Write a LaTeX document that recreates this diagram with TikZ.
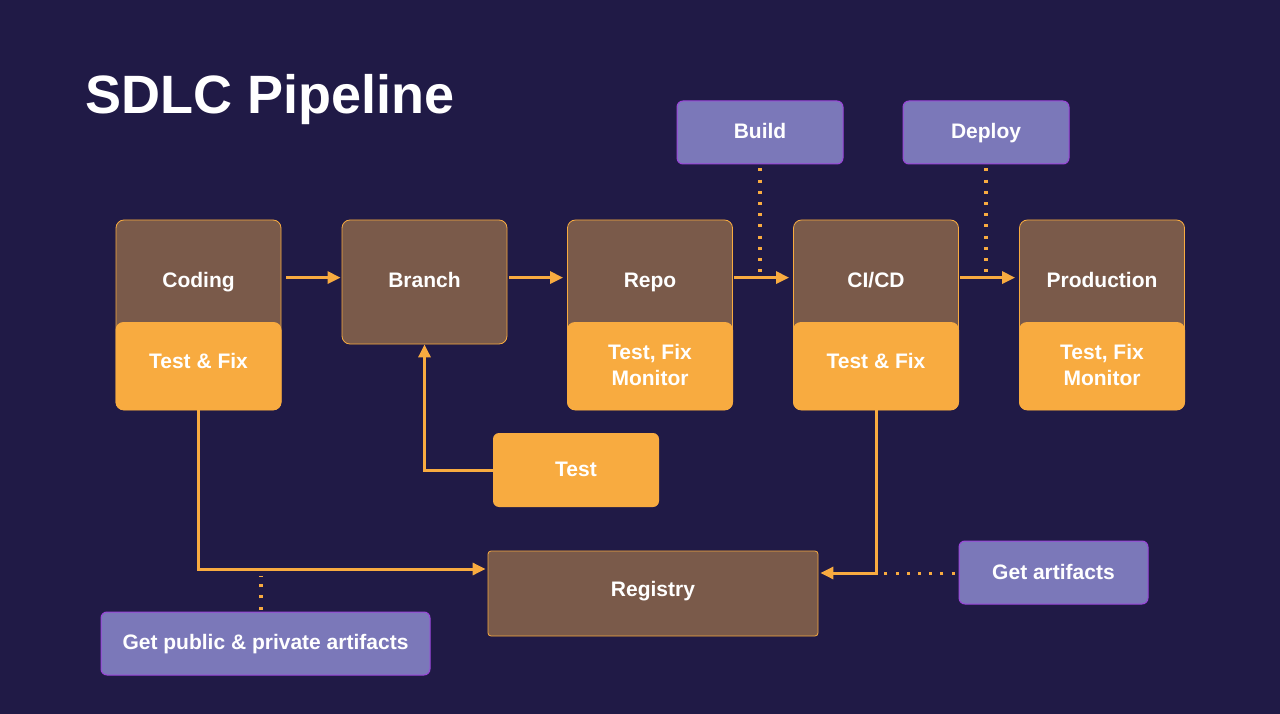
\documentclass[tikz,border=0pt]{standalone}
\usepackage{fontspec}
\setmainfont{Liberation Sans}
\usetikzlibrary{arrows.meta}
\definecolor{bgc}{HTML}{201A46}
\definecolor{brownc}{HTML}{7A5A4A}
\definecolor{orangec}{HTML}{F8AB40}
\definecolor{purplec}{HTML}{7B78B9}
\definecolor{violetc}{HTML}{9B45DA}
\begin{document}
\begin{tikzpicture}[x=1pt,y=-1pt,
  stagebox/.style={draw=orangec, line width=0.8pt, fill=brownc, rounded corners=8pt, minimum width=165pt, inner sep=0pt},
  lowerbox/.style={fill=orangec, rounded corners=8pt, minimum width=166pt, minimum height=88pt, inner sep=0pt},
  pbox/.style={draw=violetc, fill=purplec, rounded corners=6pt, line width=1pt, inner sep=0pt},
  obox/.style={fill=orangec, rounded corners=6pt, inner sep=0pt},
  txtm/.style={text=white, font=\bfseries\fontsize{21}{26}\selectfont, align=center, inner sep=0pt},
  txt/.style={txtm, text height=17pt, text depth=4pt},
  arr/.style={draw=orangec, line width=3pt, -{Triangle[length=13pt,width=12pt]}},
  dots/.style={draw=orangec, line width=3.2pt, dash pattern=on 3pt off 8.2pt}
]
\fill[bgc] (0,0) rectangle (1280,714);
\useasboundingbox (0,0) rectangle (1280,714);

\node[text=white, font=\bfseries\fontsize{54}{60}\selectfont, anchor=base west, inner sep=0pt] (title) at (85,114) {SDLC Pipeline};

% stages
\node[stagebox, minimum height=190pt] (coding) at (198.5,315) {};
\node[lowerbox] (codinglow) at (198.5,366) {};
\node[txt] (codingt) at (198.5,281) {Coding};
\node[txt] (codinglt) at (198.5,362) {Test \& Fix};

\node[stagebox, minimum height=124pt] (branch) at (424.5,282) {};
\node[txt] (brancht) at (424.5,281) {Branch};

\node[stagebox, minimum height=190pt] (repo) at (650,315) {};
\node[lowerbox] (repolow) at (650,366) {};
\node[txt] (repot) at (650,281) {Repo};
\node[txtm] (repolt) at (650,365) {Test, Fix\\Monitor};

\node[stagebox, minimum height=190pt] (cicd) at (876,315) {};
\node[lowerbox] (cicdlow) at (876,366) {};
\node[txt] (cicdt) at (876,281) {CI/CD};
\node[txt] (cicdlt) at (876,362) {Test \& Fix};

\node[stagebox, minimum height=190pt] (prod) at (1102,315) {};
\node[lowerbox] (prodlow) at (1102,366) {};
\node[txt] (prodt) at (1102,281) {Production};
\node[txtm] (prodlt) at (1102,365) {Test, Fix\\Monitor};

% top boxes
\node[pbox, minimum width=166pt, minimum height=63pt] (build) at (760,132.5) {};
\node[txt] at (build) {Build};
\node[pbox, minimum width=166pt, minimum height=63pt] (deploy) at (986,132.5) {};
\node[txt] at (deploy) {Deploy};

% test
\node[obox, minimum width=166pt, minimum height=74pt] (test) at (576,470) {};
\node[txt] at (test) {Test};

% registry
\node[draw=orangec, line width=0.8pt, fill=brownc, rounded corners=3pt, minimum width=330pt, minimum height=85pt] (registry) at (653,593.5) {};
\node[txt] at ([yshift=4pt]registry.center) {Registry};

% purple bottom boxes
\node[pbox, minimum width=189pt, minimum height=63pt] (getart) at (1053.5,572.5) {};
\node[txt] at (getart) {Get artifacts};
\node[pbox, minimum width=329pt, minimum height=63pt] (getpub) at (265.5,643.5) {};
\node[txt] at ([yshift=1pt]getpub.center) {Get public \& private artifacts};

% connectors
\draw[arr] ([xshift=5pt,yshift=-58pt]coding.north east) -- ([xshift=-1pt,yshift=-58pt]branch.north west);
\draw[arr] ([xshift=2pt,yshift=-58pt]branch.north east) -- ([xshift=-4pt,yshift=-58pt]repo.north west);
\draw[arr] ([xshift=1pt,yshift=-58pt]repo.north east) -- ([xshift=-4pt,yshift=-58pt]cicd.north west);
\draw[arr] ([xshift=1pt,yshift=-58pt]cicd.north east) -- ([xshift=-4pt,yshift=-58pt]prod.north west);

\draw[dots] ([yshift=-4pt]build.south) -- ([yshift=-112pt]build.south);
\draw[dots] ([yshift=-4pt]deploy.south) -- ([yshift=-112pt]deploy.south);

\draw[arr] (test.west) -| (branch.south);
\draw[arr] (codinglow.south) |- ([xshift=-2pt,yshift=24.5pt]registry.west);
\draw[arr] (cicdlow.south) |- ([xshift=2pt,yshift=20.5pt]registry.east);

\draw[dots] ([xshift=-4pt,yshift=-1pt]getart.west) -- ([xshift=-76pt,yshift=-1pt]getart.west);
\draw[dots] ([xshift=-4.5pt,yshift=2pt]getpub.north) -- ([xshift=-4.5pt,yshift=36pt]getpub.north);
\end{tikzpicture}
\end{document}
